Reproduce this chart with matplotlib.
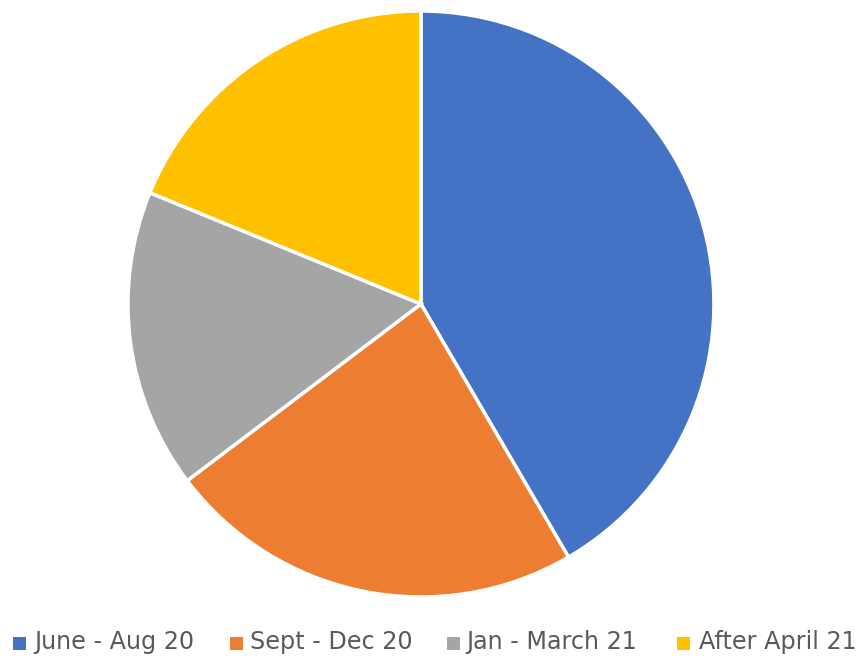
import matplotlib
matplotlib.use("Agg")
import matplotlib.pyplot as plt
from matplotlib.patches import Rectangle

categories = ["June - Aug 20", "Sept - Dec 20", "Jan - March 21", "After April 21"]
values = [41.6, 23.1, 16.5, 18.8]
colors = ["#4472C4", "#ED7D31", "#A5A5A5", "#FFC000"]

W, H = 864, 659
fig = plt.figure(figsize=(W / 100, H / 100), dpi=100)
ax = fig.add_axes([0.1481, 0.0941, 0.6782, 0.8892])
ax.pie(values, colors=colors, startangle=90, counterclock=False, radius=1,
       wedgeprops=dict(edgecolor="white", linewidth=2.5))
ax.set_xlim(-1.0, 1.0)
ax.set_ylim(-1.0, 1.0)
ax.set_aspect("equal")
ax.axis("off")

# legend laid out manually to match the reference spacing
marker_x = [13, 230, 447, 677]
text_x = [34, 250, 466, 699]
for c, lab, mx, tx in zip(colors, categories, marker_x, text_x):
    fig.patches.append(Rectangle((mx / W, 1 - 650 / H), 13 / W, 13 / H,
                                 transform=fig.transFigure, facecolor=c,
                                 edgecolor="none"))
    fig.text(tx / W, 1 - 649 / H, lab, ha="left", va="baseline",
             fontsize=17.2, color="#595959", family="DejaVu Sans")

fig.savefig("out.png", dpi=100, facecolor="white")
